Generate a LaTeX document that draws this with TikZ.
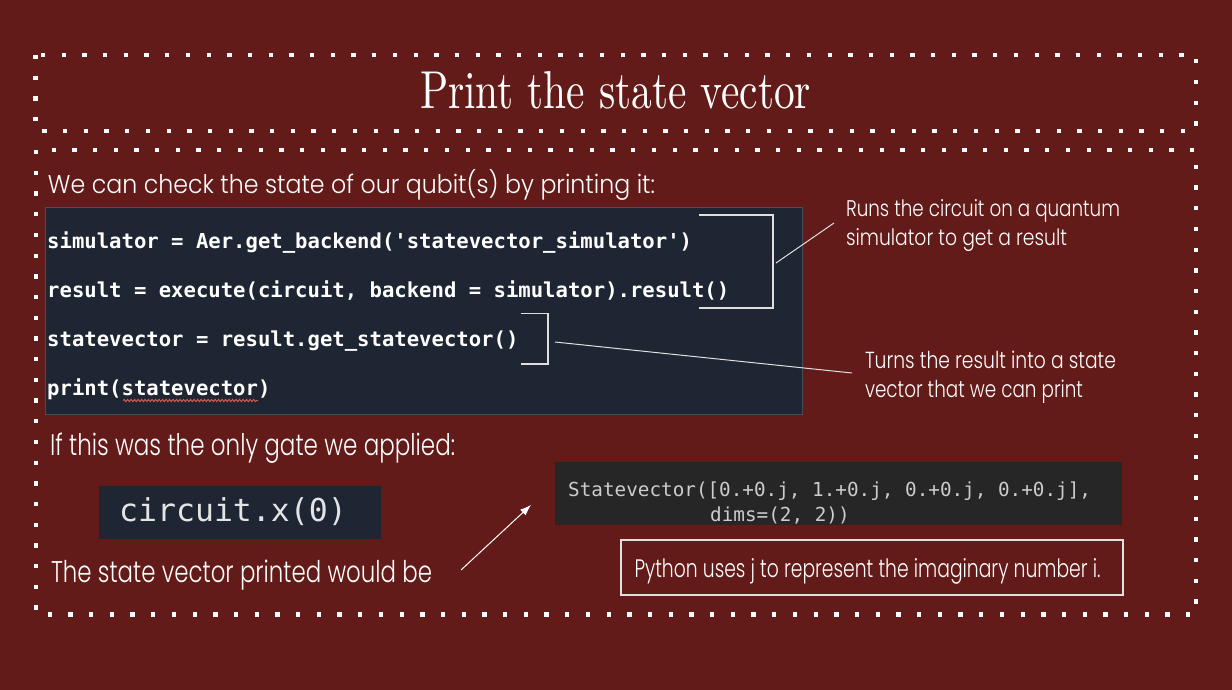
\documentclass[tikz,border=0pt]{standalone}
\usepackage{fontspec}
\usetikzlibrary{arrows.meta,decorations.pathmorphing}
\newfontfamily\hand{Poppins}[UprightFont=* Light]
\newfontfamily\codefont{DejaVu Sans Mono}
\definecolor{bgred}{RGB}{99,27,25}
\definecolor{codebg}{RGB}{30,38,51}
\definecolor{codeborder}{RGB}{72,78,88}
\definecolor{svbg}{RGB}{38,38,38}
\definecolor{svtext}{RGB}{204,204,204}
\definecolor{cxtext}{RGB}{228,228,228}
\definecolor{linegrey}{RGB}{225,222,222}
\definecolor{squig}{RGB}{214,92,82}
\newcommand\fitbox[3]{\resizebox{#1pt}{#2pt}{#3}}
\begin{document}
\begin{tikzpicture}[x=1pt,y=-1pt,
  dotborder/.style={draw=white, line width=4.3pt, dash pattern=on 4.3pt off 16.4pt},
  txt/.style={anchor=base west, inner sep=0pt, outer sep=0pt, text=white},
  codeline/.style={anchor=base west, inner sep=0pt, text=white, font=\codefont\bfseries\fontsize{20.6}{24}\selectfont},
  svline/.style={anchor=base west, inner sep=0pt, text=svtext, font=\codefont\fontsize{19.3}{23}\selectfont},
  panel/.style={anchor=north west, inner sep=0pt, outer sep=0pt},
  bracket/.style={draw=linegrey, line width=1.3pt},
  leader/.style={draw=linegrey, line width=1pt}]
\fill[bgred] (0,0) rectangle (1232,690);
\useasboundingbox (0,0) rectangle (1232,690);
% dotted frames
\draw[dotborder] (35.5,55) rectangle (1196,131);
\draw[dotborder] (36,150) rectangle (1196,614.5);
% title
\node[txt] (title) at (420,108.5) {\fitbox{391}{37}{\rmfamily Print the state vector}};
% intro text
\node[txt] (intro) at (48,194) {\fitbox{607}{24}{\hand We can check the state of our qubit(s) by printing it:}};
% code block
\node[panel, fill=codebg, draw=codeborder, line width=1pt, minimum width=757pt, minimum height=207pt] (code) at (45,207) {};
\node[codeline] (l1) at (47,248) {simulator = Aer.get\_backend('statevector\_simulator')};
\node[codeline] (l2) at (47,297) {result = execute(circuit, backend = simulator).result()};
\node[codeline] (l3) at (47,346) {statevector = result.get\_statevector()};
\node[codeline] (l4) at (47,395) {print(statevector)};
\draw[squig, line width=0.9pt, decorate, decoration={snake, amplitude=1.2pt, segment length=3.5pt}] (123,400.5) -- (258,400.5);
% brackets
\coordinate (b1a) at (699,215);
\coordinate (b1b) at (773,215);
\coordinate (b1c) at (773,308);
\coordinate (b1d) at (699,308);
\draw[bracket] (b1a) -- (b1b) -- (b1c) -- (b1d);
\coordinate (b2a) at (521,313.5);
\coordinate (b2b) at (548,313.5);
\coordinate (b2c) at (548,364);
\coordinate (b2d) at (521,364);
\draw[bracket] (b2a) -- (b2b) -- (b2c) -- (b2d);
% annotations
\node[txt] (a1) at (846,216.5) {\fitbox{274}{17}{\hand Runs the circuit on a quantum}};
\node[txt] (a1b) at (846,245.5) {\fitbox{221}{17}{\hand simulator to get a result}};
\node[txt] (a2) at (865,368) {\fitbox{251}{17.5}{\hand Turns the result into a state}};
\node[txt] (a2b) at (865,397) {\fitbox{218}{17.5}{\hand vector that we can print}};
\coordinate (c1s) at (776,263);
\coordinate (c1e) at (834,223);
\draw[leader] (c1s) -- (c1e);
\coordinate (c2s) at (555,342);
\coordinate (c2e) at (852,373);
\draw[leader] (c2s) -- (c2e);
% lower part
\node[txt] (gate) at (50,455) {\fitbox{405}{22.5}{\hand If this was the only gate we applied:}};
\node[panel, fill=codebg, minimum width=282pt, minimum height=53pt] (cx) at (99,486) {};
\node[anchor=base west, inner sep=0pt, text=cxtext, font=\codefont\fontsize{31.5}{36}\selectfont] (cxt) at (119,521) {circuit.x(0)};
\node[txt] (would) at (51,582) {\fitbox{381}{22.5}{\hand The state vector printed would be}};
\node[panel, fill=svbg, minimum width=567pt, minimum height=63pt] (sv) at (555,462) {};
\node[svline] (sv1) at (568,496.5) {Statevector([0.+0.j, 1.+0.j, 0.+0.j, 0.+0.j],};
\node[svline] (sv2) at (710,521.5) {dims=(2, 2))};
\coordinate (as) at (461,570);
\coordinate (ae) at (531,505);
\draw[white, line width=1pt, -{Latex[length=11pt,width=8pt]}] (as) -- (ae);
\node[panel, draw=linegrey, line width=1.3pt, minimum width=502pt, minimum height=55pt] (py) at (621,540) {};
\node[txt] (pyt) at (634.5,577.5) {\fitbox{466}{19}{\hand Python uses j to represent the imaginary number i.}};
\end{tikzpicture}
\end{document}
